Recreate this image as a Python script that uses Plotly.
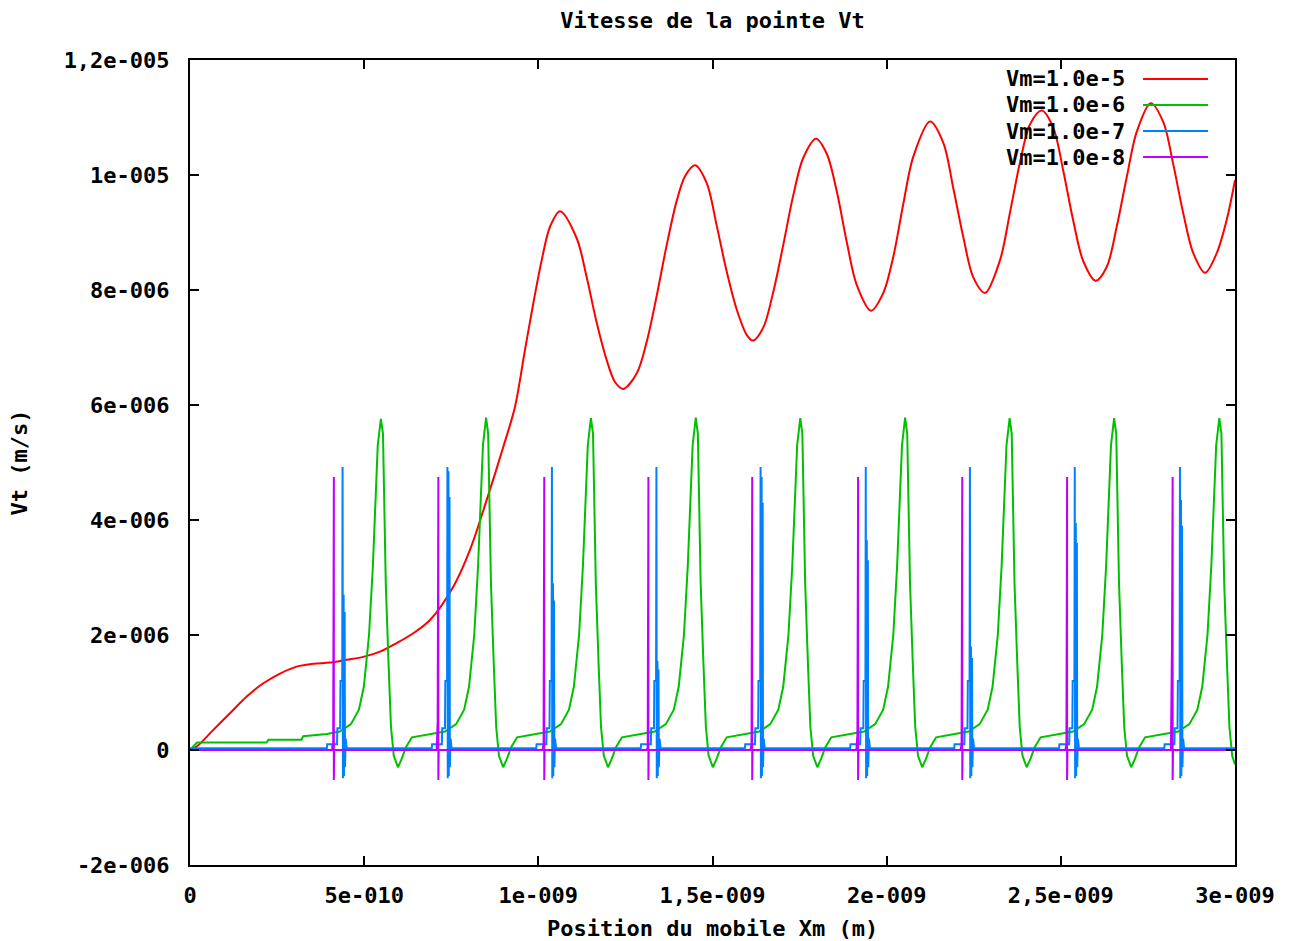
import plotly.graph_objects as go

# ---- units used in the data lists ----
X_UNIT = 1e-9   # x values are in nm (1e-9 m)
Y_UNIT = 1e-6   # y values are in micrometre/s (1e-6 m/s)

# ---- Vm = 1.0e-5 (red) ----
red_x = [0.0, 0.0192, 0.0669, 0.1148, 0.1628, 0.2104, 0.2584, 0.3063, 0.3540, 0.4019,
         0.4499, 0.4975, 0.5455, 0.5934, 0.6411, 0.6890, 0.7559, 0.8038, 0.8518, 0.8994,
         0.9330, 0.9617, 0.9856, 1.0097, 1.0335, 1.0622, 1.1101, 1.1389, 1.1676, 1.1963,
         1.2201, 1.2439, 1.2824, 1.3111, 1.3398, 1.3685, 1.3972, 1.4211, 1.4498, 1.4834,
         1.5121, 1.5408, 1.5695, 1.5982, 1.6163, 1.6459, 1.6746, 1.7033, 1.7320, 1.7607,
         1.7971, 1.8279, 1.8566, 1.8853, 1.9140, 1.9550, 1.9904, 2.0191, 2.0478, 2.0765,
         2.1244, 2.1626, 2.1913, 2.2200, 2.2487, 2.2823, 2.3254, 2.3541, 2.3828, 2.4115,
         2.4451, 2.4784, 2.5071, 2.5358, 2.5645, 2.6001, 2.6317, 2.6604, 2.6891, 2.7178,
         2.7580, 2.7942, 2.8229, 2.8516, 2.8803, 2.9139, 2.9475, 2.9762, 3.0000]
red_y = [0.00, 0.06, 0.35, 0.64, 0.93, 1.16, 1.33, 1.45, 1.50, 1.52,
         1.57, 1.62, 1.71, 1.86, 2.03, 2.26, 2.84, 3.48, 4.35, 5.27,
         5.97, 6.96, 7.77, 8.52, 9.10, 9.37, 8.90, 8.22, 7.43, 6.78,
         6.40, 6.28, 6.55, 7.10, 7.90, 8.78, 9.55, 9.98, 10.17, 9.86,
         9.12, 8.32, 7.66, 7.22, 7.12, 7.35, 7.97, 8.79, 9.65, 10.30,
         10.63, 10.37, 9.72, 8.84, 8.09, 7.64, 7.95, 8.58, 9.50, 10.32,
         10.93, 10.56, 9.77, 8.92, 8.22, 7.95, 8.52, 9.35, 10.22, 10.88,
         11.12, 10.82, 10.07, 9.20, 8.50, 8.16, 8.40, 9.10, 9.96, 10.75,
         11.25, 10.92, 10.18, 9.33, 8.64, 8.30, 8.64, 9.22, 9.91]

# ---- Vm = 1.0e-6 (green) ----
green_x = [0.0, 0.020, 0.220, 0.225, 0.320, 0.325,
           0.393, 0.430, 0.462, 0.485, 0.499, 0.514, 0.525, 0.534, 0.539, 0.548, 0.554, 0.558, 0.562, 0.570, 0.577, 0.585, 0.597, 0.608, 0.620, 0.637, 0.677,
           0.695, 0.732, 0.764, 0.787, 0.801, 0.816, 0.827, 0.836, 0.841, 0.850, 0.856, 0.860, 0.864, 0.872, 0.879, 0.887, 0.899, 0.910, 0.922, 0.939, 0.979,
           0.996, 1.033, 1.065, 1.088, 1.102, 1.117, 1.128, 1.137, 1.142, 1.151, 1.157, 1.161, 1.165, 1.173, 1.180, 1.188, 1.200, 1.211, 1.223, 1.240, 1.280,
           1.297, 1.334, 1.366, 1.389, 1.403, 1.418, 1.429, 1.438, 1.443, 1.452, 1.458, 1.462, 1.466, 1.474, 1.481, 1.489, 1.501, 1.512, 1.524, 1.541, 1.581,
           1.597, 1.634, 1.666, 1.689, 1.703, 1.718, 1.729, 1.738, 1.743, 1.752, 1.758, 1.762, 1.766, 1.774, 1.781, 1.789, 1.801, 1.812, 1.824, 1.841, 1.881,
           1.898, 1.935, 1.967, 1.990, 2.004, 2.019, 2.030, 2.039, 2.044, 2.053, 2.059, 2.063, 2.067, 2.075, 2.082, 2.090, 2.102, 2.113, 2.125, 2.142, 2.182,
           2.198, 2.235, 2.267, 2.290, 2.304, 2.319, 2.330, 2.339, 2.344, 2.353, 2.359, 2.363, 2.367, 2.375, 2.382, 2.390, 2.402, 2.413, 2.425, 2.442, 2.482,
           2.498, 2.535, 2.567, 2.590, 2.604, 2.619, 2.630, 2.639, 2.644, 2.653, 2.659, 2.663, 2.667, 2.675, 2.682, 2.690, 2.702, 2.713, 2.725, 2.742, 2.782,
           2.800, 2.837, 2.869, 2.892, 2.906, 2.921, 2.932, 2.941, 2.946, 2.955, 2.961, 2.965, 2.969, 2.977, 2.984, 2.992, 3.000]
green_y = [0.0, 0.13, 0.13, 0.18, 0.18, 0.24,
           0.28, 0.32, 0.45, 0.70, 1.10, 2.00, 3.20, 4.40, 5.30, 5.76, 5.50, 4.20, 2.90, 1.50, 0.40, -0.10, -0.30, -0.15, 0.05, 0.22, 0.26,
           0.28, 0.32, 0.45, 0.70, 1.10, 2.00, 3.20, 4.40, 5.30, 5.78, 5.50, 4.20, 2.90, 1.50, 0.40, -0.10, -0.30, -0.15, 0.05, 0.22, 0.26,
           0.28, 0.32, 0.45, 0.70, 1.10, 2.00, 3.20, 4.40, 5.30, 5.77, 5.50, 4.20, 2.90, 1.50, 0.40, -0.10, -0.30, -0.15, 0.05, 0.22, 0.26,
           0.28, 0.32, 0.45, 0.70, 1.10, 2.00, 3.20, 4.40, 5.30, 5.78, 5.50, 4.20, 2.90, 1.50, 0.40, -0.10, -0.30, -0.15, 0.05, 0.22, 0.26,
           0.28, 0.32, 0.45, 0.70, 1.10, 2.00, 3.20, 4.40, 5.30, 5.77, 5.50, 4.20, 2.90, 1.50, 0.40, -0.10, -0.30, -0.15, 0.05, 0.22, 0.26,
           0.28, 0.32, 0.45, 0.70, 1.10, 2.00, 3.20, 4.40, 5.30, 5.78, 5.50, 4.20, 2.90, 1.50, 0.40, -0.10, -0.30, -0.15, 0.05, 0.22, 0.26,
           0.28, 0.32, 0.45, 0.70, 1.10, 2.00, 3.20, 4.40, 5.30, 5.77, 5.50, 4.20, 2.90, 1.50, 0.40, -0.10, -0.30, -0.15, 0.05, 0.22, 0.26,
           0.28, 0.32, 0.45, 0.70, 1.10, 2.00, 3.20, 4.40, 5.30, 5.77, 5.50, 4.20, 2.90, 1.50, 0.40, -0.10, -0.30, -0.15, 0.05, 0.22, 0.26,
           0.28, 0.32, 0.45, 0.70, 1.10, 2.00, 3.20, 4.40, 5.30, 5.77, 5.50, 4.20, 2.90, 1.50, 0.40, -0.10, -0.25]

# ---- Vm = 1.0e-7 (blue) ----
blue_x = [0.0,
          0.393, 0.394, 0.422, 0.423, 0.431, 0.432, 0.437, 0.438, 0.439, 0.441, 0.442, 0.444, 0.445, 0.447, 0.450,
          0.694, 0.695, 0.723, 0.724, 0.732, 0.733, 0.738, 0.739, 0.740, 0.742, 0.743, 0.745, 0.746, 0.748, 0.751,
          0.994, 0.995, 1.023, 1.024, 1.032, 1.033, 1.038, 1.039, 1.040, 1.042, 1.043, 1.045, 1.046, 1.048, 1.051,
          1.294, 1.295, 1.323, 1.324, 1.332, 1.333, 1.338, 1.339, 1.340, 1.342, 1.343, 1.345, 1.346, 1.348, 1.351,
          1.593, 1.594, 1.622, 1.623, 1.631, 1.632, 1.637, 1.638, 1.639, 1.641, 1.642, 1.644, 1.645, 1.647, 1.650,
          1.895, 1.896, 1.924, 1.925, 1.933, 1.934, 1.939, 1.940, 1.941, 1.943, 1.944, 1.946, 1.947, 1.949, 1.952,
          2.194, 2.195, 2.223, 2.224, 2.232, 2.233, 2.238, 2.239, 2.240, 2.242, 2.243, 2.245, 2.246, 2.248, 2.251,
          2.495, 2.496, 2.524, 2.525, 2.533, 2.534, 2.539, 2.540, 2.541, 2.543, 2.544, 2.546, 2.547, 2.549, 2.552,
          2.797, 2.798, 2.826, 2.827, 2.835, 2.836, 2.841, 2.842, 2.843, 2.845, 2.846, 2.848, 2.849, 2.851, 2.854,
          3.000]
blue_y = [0.03,
          0.03, 0.10, 0.10, 0.38, 0.38, 1.20, 1.20, 4.92, -0.49, 2.70, -0.45, 2.40, -0.30, 0.20, 0.03,
          0.03, 0.10, 0.10, 0.38, 0.38, 1.20, 1.20, 4.92, -0.49, 4.85, -0.45, 4.40, -0.30, 0.20, 0.03,
          0.03, 0.10, 0.10, 0.38, 0.38, 1.20, 1.20, 4.92, -0.49, 2.90, -0.45, 2.60, -0.30, 0.20, 0.03,
          0.03, 0.10, 0.10, 0.38, 0.38, 1.20, 1.20, 4.92, -0.49, 1.55, -0.45, 1.40, -0.30, 0.20, 0.03,
          0.03, 0.10, 0.10, 0.38, 0.38, 1.20, 1.20, 4.92, -0.49, 4.75, -0.45, 4.30, -0.30, 0.20, 0.03,
          0.03, 0.10, 0.10, 0.38, 0.38, 1.20, 1.20, 4.92, -0.49, 3.65, -0.45, 3.30, -0.30, 0.20, 0.03,
          0.03, 0.10, 0.10, 0.38, 0.38, 1.20, 1.20, 4.92, -0.49, 1.80, -0.45, 1.60, -0.30, 0.20, 0.03,
          0.03, 0.10, 0.10, 0.38, 0.38, 1.20, 1.20, 4.92, -0.49, 3.95, -0.45, 3.60, -0.30, 0.20, 0.03,
          0.03, 0.10, 0.10, 0.38, 0.38, 1.20, 1.20, 4.92, -0.49, 4.35, -0.45, 3.90, -0.30, 0.20, 0.03,
          0.03]

# ---- Vm = 1.0e-8 (magenta) ----
magenta_x = [0.0,
             0.408, 0.409, 0.410, 0.411, 0.413, 0.413, 0.414,
             0.708, 0.709, 0.710, 0.711, 0.713, 0.713, 0.714,
             1.012, 1.013, 1.014, 1.015, 1.017, 1.017, 1.018,
             1.311, 1.312, 1.313, 1.314, 1.316, 1.316, 1.317,
             1.609, 1.610, 1.611, 1.612, 1.614, 1.614, 1.615,
             1.913, 1.914, 1.915, 1.916, 1.918, 1.918, 1.919,
             2.212, 2.213, 2.214, 2.215, 2.217, 2.217, 2.218,
             2.513, 2.514, 2.515, 2.516, 2.518, 2.518, 2.519,
             2.816, 2.817, 2.818, 2.819, 2.821, 2.821, 2.822,
             3.000]
magenta_y = [0.0,
             0.0, 0.10, 0.0, 0.10, 4.75, -0.52, 0.0,
             0.0, 0.50, 0.0, 0.50, 4.75, -0.52, 0.0,
             0.0, 0.10, 0.0, 0.10, 4.75, -0.52, 0.0,
             0.0, 0.05, 0.0, 0.05, 4.75, -0.52, 0.0,
             0.0, 0.10, 0.0, 0.10, 4.75, -0.52, 0.0,
             0.0, 0.27, 0.0, 0.27, 4.75, -0.52, 0.0,
             0.0, 0.10, 0.0, 0.10, 4.75, -0.52, 0.0,
             0.0, 0.10, 0.0, 0.10, 4.75, -0.52, 0.0,
             0.0, 1.80, 0.0, 1.80, 4.75, -0.52, 0.0,
             0.0]

series_names = ["Vm=1.0e-5", "Vm=1.0e-6", "Vm=1.0e-7", "Vm=1.0e-8"]
series_colors = ["#ff0000", "#00c000", "#0080ff", "#c000ff"]

x_tickvals = [0, 0.5, 1.0, 1.5, 2.0, 2.5, 3.0]
x_ticktext = ["0", "5e-010", "1e-009", "1,5e-009", "2e-009", "2,5e-009", "3e-009"]
y_tickvals = [-2, 0, 2, 4, 6, 8, 10, 12]
y_ticktext = ["-2e-006", "0", "2e-006", "4e-006", "6e-006", "8e-006", "1e-005", "1,2e-005"]

FONT = dict(family="DejaVu Sans Mono", size=22, color="black", weight="bold")

fig = go.Figure()
data = [(red_x, red_y, "spline"), (green_x, green_y, "linear"),
        (blue_x, blue_y, "linear"), (magenta_x, magenta_y, "linear")]
for (xs, ys, shape), name, col in zip(data, series_names, series_colors):
    line = dict(color=col, width=2, shape=shape)
    if shape == "spline":
        line["smoothing"] = 0.9
    fig.add_trace(go.Scatter(
        x=[v * X_UNIT for v in xs], y=[v * Y_UNIT for v in ys],
        mode="lines", name=name, line=line, showlegend=False))

axis_common = dict(showline=True, linecolor="black", linewidth=2, mirror="ticks",
                   ticks="inside", ticklen=9, tickwidth=1.5, tickcolor="black",
                   showgrid=False, zeroline=False, tickfont=FONT)

fig.update_xaxes(range=[0, 3 * X_UNIT], tickmode="array",
                 tickvals=[v * X_UNIT for v in x_tickvals], ticktext=x_ticktext,
                 ticklabelstandoff=10, **axis_common)
fig.update_yaxes(range=[-2 * Y_UNIT, 12 * Y_UNIT], tickmode="array",
                 tickvals=[v * Y_UNIT for v in y_tickvals], ticktext=y_ticktext,
                 ticklabelstandoff=14, **axis_common)

annotations = [
    dict(text="Position du mobile Xm (m)", x=0.5, y=-0.0795, xref="paper", yref="paper",
         xanchor="center", yanchor="middle", showarrow=False, font=FONT),
    dict(text="Vt (m/s)", x=-0.1627, y=0.5, xref="paper", yref="paper", textangle=-90,
         xanchor="center", yanchor="middle", showarrow=False, font=FONT),
]
shapes = []
legend_rows_y = [0.9764, 0.9441, 0.9118, 0.8795]
for name, col, ly in zip(series_names, series_colors, legend_rows_y):
    annotations.append(dict(text=name, x=0.8967, y=ly, xref="paper", yref="paper",
                            xanchor="right", yanchor="middle", showarrow=False, font=FONT))
    shapes.append(dict(type="line", xref="paper", yref="paper", x0=0.912, x1=0.9742,
                       y0=ly, y1=ly, line=dict(color=col, width=2)))

fig.update_layout(
    width=1291, height=941,
    margin=dict(l=190, r=56, t=60, b=76),
    paper_bgcolor="white", plot_bgcolor="white",
    title=dict(text="Vitesse de la pointe Vt", x=0.5, xref="paper", xanchor="center",
               y=1 - 20 / 941, yref="container", yanchor="middle", font=FONT),
    annotations=annotations, shapes=shapes,
)

fig.write_html("out.html")
